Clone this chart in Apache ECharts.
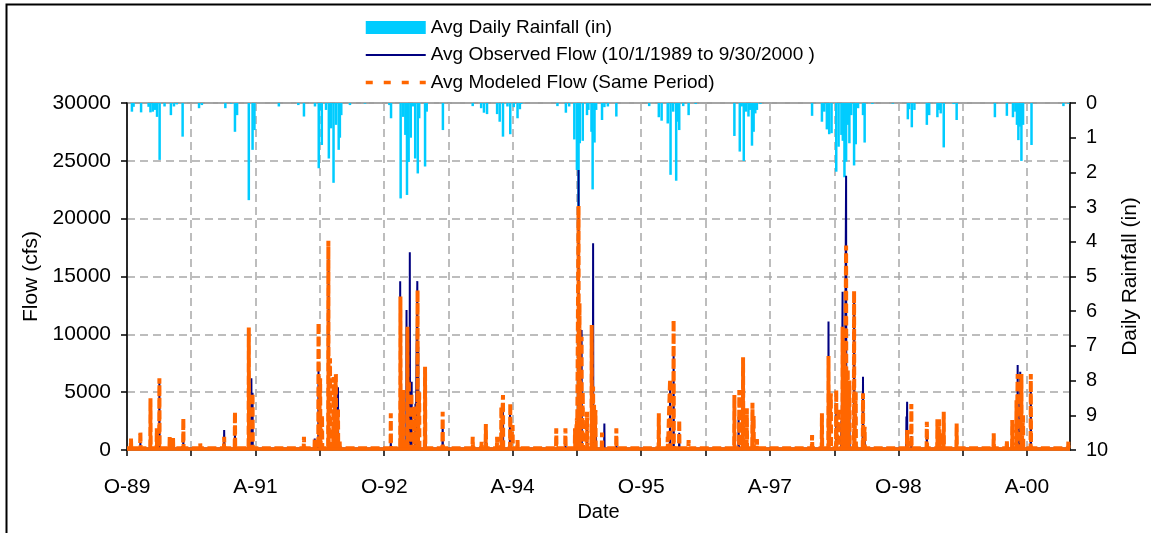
<!DOCTYPE html>
<html>
<head>
<meta charset="utf-8">
<title>Observed vs Modeled Flow</title>
<script src="https://cdn.jsdelivr.net/npm/echarts@6/dist/echarts.min.js"></script>
<style>
  html, body { margin: 0; padding: 0; background: #ffffff; }
  #chart { width: 1151px; height: 533px; }
</style>
</head>
<body>
<div id="chart"></div>
<script>
// ---- Series names ----
const rainName = 'Avg Daily Rainfall (in)';
const observedName = 'Avg Observed Flow (10/1/1989 to 9/30/2000 )';
const modeledName = 'Avg Modeled Flow (Same Period)';

// ---- Record period ----
const periodStart = '1989-10-01';
const periodEnd = '2000-10-01';

// ---- Date axis: tick marks every 9 months, labels every 18 months ----
const dateTicks = ['1989-10-01', '1990-07-01', '1991-04-01', '1992-01-01', '1992-10-01',
  '1993-07-01', '1994-04-01', '1995-01-01', '1995-10-01', '1996-07-01', '1997-04-01',
  '1998-01-01', '1998-10-01', '1999-07-01', '2000-04-01'];
const labelDates = ['1989-10-01', '1991-04-01', '1992-10-01', '1994-04-01', '1995-10-01',
  '1997-04-01', '1998-10-01', '2000-04-01'];
const dateLabels = ['O-89', 'A-91', 'O-92', 'A-94', 'O-95', 'A-97', 'O-98', 'A-00'];

// ---- Daily rainfall (in) on wet days ----
const rainfall = [
  ['1989-10-22', 0.25], ['1989-10-29', 0.11], ['1989-11-30', 0.27], ['1990-01-01', 0.11], ['1990-01-09', 0.27],
  ['1990-01-19', 0.25], ['1990-01-28', 0.2], ['1990-02-06', 0.4], ['1990-02-17', 1.64], ['1990-03-10', 0.1],
  ['1990-04-06', 0.35], ['1990-04-19', 0.1], ['1990-05-01', 0.04], ['1990-05-26', 0.97], ['1990-08-04', 0.15],
  ['1990-08-16', 0.06],
  ['1990-11-24', 0.15], ['1990-12-19', 0.02], ['1991-01-04', 0.83], ['1991-01-13', 0.35], ['1991-03-04', 2.8],
  ['1991-03-20', 1.35], ['1991-03-28', 0.78], ['1991-07-10', 0.1], ['1991-10-01', 0.06],
  ['1991-10-25', 0.39], ['1991-12-11', 0.1], ['1991-12-27', 1.88], ['1992-01-02', 0.2], ['1992-01-09', 1.21],
  ['1992-01-27', 0.2], ['1992-02-08', 1.6], ['1992-02-18', 0.73], ['1992-02-28', 2.3], ['1992-03-10', 0.63],
  ['1992-03-21', 1.35], ['1992-03-26', 1.0], ['1992-04-01', 0.35], ['1992-05-08', 0.06], ['1992-07-11', 0.02],
  ['1992-10-23', 0.06], ['1992-10-30', 0.44], ['1992-12-10', 2.75], ['1992-12-21', 0.4], ['1992-12-30', 0.92],
  ['1993-01-06', 2.65], ['1993-01-13', 1.7], ['1993-01-22', 1.0], ['1993-02-01', 0.1], ['1993-02-10', 1.6],
  ['1993-02-21', 2.03], ['1993-02-27', 0.44], ['1993-03-24', 1.83], ['1993-03-31', 0.25], ['1993-06-08', 0.78],
  ['1993-10-13', 0.09], ['1993-11-18', 0.15], ['1993-11-30', 0.28], ['1993-12-13', 0.32], ['1994-01-25', 0.32],
  ['1994-02-05', 0.54], ['1994-02-19', 0.97], ['1994-03-10', 0.1], ['1994-03-22', 0.9], ['1994-04-06', 0.12],
  ['1994-04-22', 0.44], ['1994-05-02', 0.18], ['1994-05-08', 0.03],
  ['1994-10-09', 0.09], ['1994-11-14', 0.28], ['1994-11-28', 0.1], ['1994-12-20', 1.05], ['1994-12-31', 1.93],
  ['1995-01-07', 3.3], ['1995-01-12', 1.16], ['1995-01-25', 1.09], ['1995-02-12', 0.35], ['1995-02-18', 0.2],
  ['1995-03-03', 0.83], ['1995-03-08', 2.49], ['1995-03-16', 1.14], ['1995-03-23', 0.2], ['1995-04-17', 0.49],
  ['1995-04-27', 0.12], ['1995-05-12', 0.1], ['1995-06-17', 0.39],
  ['1995-11-04', 0.09], ['1995-12-15', 0.41], ['1995-12-27', 0.51], ['1996-01-22', 0.59], ['1996-02-03', 2.07],
  ['1996-02-14', 0.25], ['1996-02-27', 2.24], ['1996-03-04', 0.54], ['1996-03-11', 0.78], ['1996-03-28', 0.09],
  ['1996-04-20', 0.35], ['1996-05-20', 0.03],
  ['1996-11-01', 0.95], ['1996-11-24', 1.4], ['1996-12-02', 0.1], ['1996-12-11', 1.67], ['1996-12-21', 0.25],
  ['1996-12-31', 0.39], ['1997-01-07', 0.2], ['1997-01-15', 1.23], ['1997-01-22', 0.83], ['1997-01-29', 0.3],
  ['1997-02-05', 0.2], ['1997-02-20', 0.03],
  ['1997-09-28', 0.37], ['1997-11-09', 0.54], ['1997-11-19', 0.25], ['1997-11-30', 0.76], ['1997-12-10', 0.9],
  ['1997-12-20', 0.87], ['1998-01-09', 1.98], ['1998-01-19', 1.26], ['1998-01-31', 0.92], ['1998-02-06', 1.09],
  ['1998-02-13', 2.14], ['1998-02-20', 1.69], ['1998-02-27', 0.63], ['1998-03-06', 1.16], ['1998-03-14', 0.35],
  ['1998-03-26', 1.8], ['1998-04-02', 1.19], ['1998-04-12', 0.15], ['1998-05-03', 0.35], ['1998-05-10', 1.14],
  ['1998-06-12', 0.03],
  ['1998-09-07', 0.02], ['1998-11-10', 0.47], ['1998-11-16', 0.18], ['1998-11-27', 0.7], ['1998-12-08', 0.2],
  ['1999-01-30', 0.63], ['1999-02-09', 0.35], ['1999-03-16', 0.41], ['1999-03-23', 0.2], ['1999-03-30', 0.3],
  ['1999-04-12', 1.28], ['1999-05-24', 0.03], ['1999-06-06', 0.49],
  ['1999-11-16', 0.41], ['2000-01-06', 0.37], ['2000-02-01', 0.41], ['2000-02-11', 0.25], ['2000-02-18', 0.63],
  ['2000-02-24', 1.07], ['2000-03-01', 0.68], ['2000-03-08', 1.67], ['2000-03-15', 0.63], ['2000-04-20', 1.21],
  ['2000-09-03', 0.09], ['2000-09-24', 0.02]
];

// ---- Observed storm peaks (cfs); flow sits at base flow between events ----
const observedBaseflow = 120;
const observedPeaks = [
  ['1989-11-27', 600], ['1990-01-09', 720], ['1990-02-16', 6100], ['1990-05-29', 900], ['1990-11-19', 1730],
  ['1991-01-04', 1440], ['1991-03-04', 5200], ['1991-03-15', 6200], ['1991-03-20', 4960],
  ['1991-12-10', 1000], ['1991-12-26', 7060], ['1991-12-29', 6200], ['1992-02-07', 16500], ['1992-03-10', 3600],
  ['1992-03-18', 5420],
  ['1992-10-29', 720], ['1992-12-08', 14600], ['1992-12-21', 5000], ['1993-01-04', 12100], ['1993-01-18', 17090],
  ['1993-01-26', 5900], ['1993-02-11', 4000], ['1993-02-19', 14600], ['1993-02-23', 8930], ['1993-03-26', 6480],
  ['1993-06-07', 2590],
  ['1993-12-08', 1590], ['1994-02-19', 4030], ['1994-03-21', 3750], ['1994-04-22', 600],
  ['1994-11-12', 700], ['1995-01-07', 24200], ['1995-01-12', 6500], ['1995-01-20', 10380], ['1995-02-12', 2600],
  ['1995-03-10', 17870], ['1995-03-22', 2160], ['1995-04-27', 2300], ['1995-06-17', 1000],
  ['1995-12-15', 1590], ['1996-02-01', 5190], ['1996-02-16', 8210], ['1996-03-11', 1500],
  ['1996-11-01', 1300], ['1996-11-19', 2880], ['1996-12-08', 6340], ['1997-01-17', 3000],
  ['1997-11-09', 2300], ['1997-12-07', 11100], ['1998-01-09', 3500], ['1998-01-31', 2500], ['1998-02-05', 13690],
  ['1998-02-13', 8500], ['1998-02-20', 23700], ['1998-03-06', 4500], ['1998-03-26', 12970], ['1998-05-03', 6340],
  ['1998-05-10', 1500],
  ['1998-11-04', 2900], ['1998-11-07', 4180], ['1998-11-25', 1200], ['1999-01-30', 1440], ['1999-03-16', 1700],
  ['1999-04-12', 1500],
  ['2000-01-29', 1200], ['2000-02-21', 7350], ['2000-03-03', 6770], ['2000-04-17', 5760], ['2000-09-24', 400]
];

// ---- Modeled storm peaks (cfs) ----
const modeledBaseflow = 150;
const modeledPeaks = [
  ['1989-10-18', 1000], ['1989-11-27', 1590], ['1990-01-09', 4470], ['1990-02-05', 1870], ['1990-02-16', 6200],
  ['1990-04-01', 1150], ['1990-04-15', 1150], ['1990-05-29', 2740], ['1990-08-09', 580],
  ['1990-11-19', 1150], ['1991-01-04', 3310], ['1991-03-04', 10580], ['1991-03-20', 4900],
  ['1991-10-25', 1150], ['1991-12-10', 1000], ['1991-12-26', 11000], ['1992-01-02', 6200], ['1992-01-10', 3000],
  ['1992-02-06', 18100], ['1992-02-13', 7930], ['1992-02-28', 6300], ['1992-03-09', 6570], ['1992-03-18', 3500],
  ['1992-03-25', 860],
  ['1992-10-29', 3170], ['1992-12-09', 13260], ['1992-12-20', 5190], ['1993-01-08', 10660], ['1993-01-14', 6000],
  ['1993-01-25', 4900], ['1993-02-05', 3750], ['1993-02-20', 13830], ['1993-02-27', 5000], ['1993-03-24', 7200],
  ['1993-06-07', 3310],
  ['1993-10-13', 1150], ['1993-11-20', 720], ['1993-12-08', 2250], ['1994-01-25', 1150], ['1994-02-12', 3750],
  ['1994-02-19', 4760], ['1994-03-22', 4030], ['1994-04-01', 2160], ['1994-04-22', 860],
  ['1994-10-04', 1870], ['1994-11-12', 1870], ['1994-12-23', 1870], ['1994-12-31', 2740], ['1995-01-07', 21100],
  ['1995-01-11', 12700], ['1995-01-14', 6000], ['1995-01-20', 9800], ['1995-01-25', 5000], ['1995-02-12', 3310],
  ['1995-03-04', 10800], ['1995-03-10', 5500], ['1995-03-14', 4000], ['1995-03-20', 3460], ['1995-04-17', 1500],
  ['1995-06-17', 1870],
  ['1995-12-15', 3170], ['1996-01-22', 1150], ['1996-02-01', 6110], ['1996-02-16', 11240], ['1996-03-11', 2590],
  ['1996-04-20', 860],
  ['1996-11-01', 4760], ['1996-11-22', 5190], ['1996-12-08', 8010], ['1996-12-24', 3600], ['1997-01-17', 4090],
  ['1997-01-22', 2940], ['1997-02-05', 950],
  ['1997-09-28', 1300], ['1997-11-09', 3170], ['1997-12-07', 8130], ['1997-12-17', 4900], ['1998-01-09', 5190],
  ['1998-01-19', 3600], ['1998-02-05', 10660], ['1998-02-13', 9000], ['1998-02-20', 17670], ['1998-02-27', 7000],
  ['1998-03-06', 6000], ['1998-03-26', 13750], ['1998-04-02', 5000], ['1998-05-03', 4900], ['1998-05-10', 2000],
  ['1998-11-07', 1730], ['1998-11-25', 3980], ['1999-01-30', 2450], ['1999-03-16', 2650], ['1999-03-23', 2650],
  ['1999-03-30', 1500], ['1999-04-12', 3310], ['1999-06-06', 2300],
  ['1999-11-11', 1440], ['2000-01-06', 800], ['2000-01-29', 2590], ['2000-02-16', 4300], ['2000-02-21', 6570],
  ['2000-03-08', 6570], ['2000-03-15', 3000], ['2000-04-17', 6570], ['2000-09-24', 720]
];

// ---- Helpers ----
const DAY = 86400000;
function toTime(s) {
  const p = s.split('-').map(Number);
  return Date.UTC(p[0], p[1] - 1, p[2]);
}
// Daily hydrograph: base flow the day before and after each storm peak.
function hydrograph(peaks, baseflow) {
  const pts = [[toTime(periodStart), baseflow], [toTime(periodEnd), baseflow]];
  peaks.forEach(function (pk) {
    const t = toTime(pk[0]);
    pts.push([t - DAY, baseflow], [t, pk[1]], [t + DAY, baseflow]);
  });
  return pts.sort(function (a, b) { return a[0] - b[0]; });
}

const FONT = '"Liberation Sans", Arial, sans-serif';
const gridDash = { type: [8, 5], color: '#a8a8a8', width: 1.5 };
const labelByTime = {};
labelDates.forEach(function (d, i) { labelByTime[toTime(d)] = dateLabels[i]; });

const chart = echarts.init(document.getElementById('chart'), null, { renderer: 'canvas' });
chart.setOption({
  animation: false,
  backgroundColor: '#ffffff',
  textStyle: { fontFamily: FONT, color: '#000' },
  graphic: [{
    type: 'rect', left: 4, top: 2, silent: true,
    shape: { x: 0, y: 0, width: 1400, height: 800 },
    style: { fill: 'none', stroke: '#000', lineWidth: 2 }
  }],
  legend: {
    orient: 'vertical', left: 364, top: 18, padding: 0,
    itemWidth: 60, itemHeight: 13, itemGap: 8.5,
    textStyle: { fontSize: 19, color: '#000', fontFamily: FONT },
    data: [
      { name: rainName, icon: 'rect' },
      // line samples only, no point marker
      { name: observedName, itemStyle: { opacity: 0 } },
      { name: modeledName, itemStyle: { opacity: 0 }, lineStyle: { type: [7, 11], width: 3.5 } }
    ]
  },
  grid: {
    left: 127, right: 81, top: 103, bottom: 83,
    show: true, borderColor: '#808080', borderWidth: 1.5, backgroundColor: 'transparent'
  },
  xAxis: {
    type: 'value',
    min: toTime(periodStart), max: toTime(periodEnd),
    name: 'Date', nameLocation: 'middle', nameGap: 47,
    nameTextStyle: { fontSize: 20, color: '#000', fontFamily: FONT },
    axisLine: { show: true, lineStyle: { color: '#808080', width: 2 } },
    axisTick: { show: true, customValues: dateTicks.map(toTime), length: 6, lineStyle: { color: '#000', width: 1.5 } },
    axisLabel: {
      customValues: labelDates.map(toTime), margin: 27, fontSize: 21, color: '#000', fontFamily: FONT,
      formatter: function (v) { return labelByTime[v] || ''; }
    },
    splitLine: { show: true, lineStyle: gridDash }
  },
  yAxis: [{
    type: 'value', position: 'left', min: 0, max: 30000, interval: 5000,
    name: 'Flow (cfs)', nameLocation: 'middle', nameGap: 80, nameRotate: 90,
    nameTextStyle: { fontSize: 21, color: '#000', fontFamily: FONT },
    axisLine: { show: true, lineStyle: { color: '#000', width: 1.5 } },
    axisTick: { show: true, length: 6, lineStyle: { color: '#000', width: 1.5 } },
    axisLabel: { margin: 16, fontSize: 21, color: '#000', fontFamily: FONT, formatter: function (v) { return String(v); } },
    splitLine: { show: true, lineStyle: gridDash }
  }, {
    type: 'value', position: 'right', min: 0, max: 10, interval: 1, inverse: true,
    name: 'Daily Rainfall (in)', nameLocation: 'middle', nameGap: 50, nameRotate: 90,
    nameTextStyle: { fontSize: 21, color: '#000', fontFamily: FONT },
    axisLine: { show: true, lineStyle: { color: '#000', width: 1.5 } },
    axisTick: { show: true, length: 6, lineStyle: { color: '#000', width: 1.5 } },
    axisLabel: { margin: 16, fontSize: 20, color: '#000', fontFamily: FONT },
    splitLine: { show: false }
  }],
  series: [{
    name: rainName, type: 'bar', yAxisIndex: 1, barWidth: 2.5,
    itemStyle: { color: '#00ccff' },
    data: rainfall.map(function (r) { return [toTime(r[0]), r[1]]; })
  }, {
    name: observedName, type: 'line', yAxisIndex: 0, symbol: 'none', showSymbol: false,
    lineStyle: { color: '#000080', width: 2 }, itemStyle: { color: '#000080' },
    data: hydrograph(observedPeaks, observedBaseflow)
  }, {
    name: modeledName, type: 'line', yAxisIndex: 0, symbol: 'none', showSymbol: false,
    lineStyle: { color: '#ff6600', width: 4, type: [9, 3.5] }, itemStyle: { color: '#ff6600' },
    data: hydrograph(modeledPeaks, modeledBaseflow),
    markLine: {
      silent: true, symbol: 'none', label: { show: false },
      lineStyle: { type: 'solid', color: '#ff6600', width: 3.5 },
      data: [{ yAxis: modeledBaseflow }]
    }
  }]
});
</script>
</body>
</html>
